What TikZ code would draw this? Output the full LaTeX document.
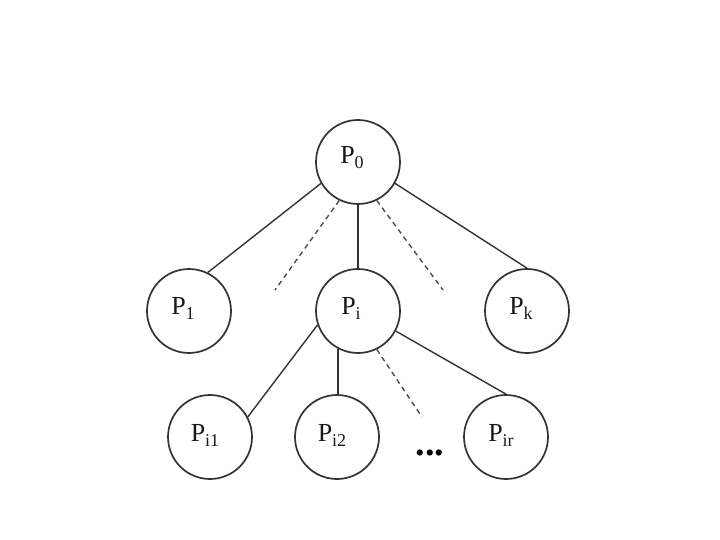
\documentclass[tikz,border=0pt]{standalone}
\usepackage{fontspec}
\setmainfont{Liberation Serif}
\newcommand\psub[1]{\raisebox{-5pt}{\fontsize{18}{18}\selectfont #1}}
\begin{document}
\begin{tikzpicture}[x=1pt,y=-1pt,
  circ/.style={circle,draw=black!80,line width=1.7pt,minimum size=84pt,inner sep=0pt},
  lab/.style={anchor=base,inner sep=0pt,font=\fontsize{26}{26}\selectfont,text=black!90},
  edge/.style={draw=black!80,line width=1.4pt},
  dedge/.style={draw=black!70,line width=1.4pt,dash pattern=on 5pt off 4pt}]
\useasboundingbox (0,0) rectangle (720,540);
% circles
\node[circ] (p0) at (358,162) {};
\node[circ] (p1) at (189,311) {};
\node[circ] (pi) at (358,311) {};
\node[circ] (pk) at (527,311) {};
\node[circ] (pi1) at (210,437) {};
\node[circ] (pi2) at (337,437) {};
\node[circ] (pir) at (506,437) {};
% labels
\node[lab] (t0) at (352,164) {P\psub{0}};
\node[lab] (t1) at (183,314) {P\psub{1}};
\node[lab] (ti) at (351,314) {P\psub{i}};
\node[lab] (tk) at (521,314) {P\psub{k}};
\node[lab] (ti1) at (205,441) {P\psub{i1}};
\node[lab] (ti2) at (332,441) {P\psub{i2}};
\node[lab] (tir) at (501,441) {P\psub{ir}};
\node[anchor=base,inner sep=0pt,font=\fontsize{38}{38}\selectfont\bfseries] (dots) at (430,455) {...};
% free ends
\coordinate (d1) at (275,290);
\coordinate (d2) at (443,290);
\coordinate (d3) at (422,417);
% connectors
\draw[edge] (p0.210) -- (p1.64);
\draw[dedge] (p0.244) -- (d1);
\draw[edge,line width=1.7pt] (p0.south) -- (pi.north);
\draw[dedge] (p0.296) -- (d2);
\draw[edge] (p0.330) -- (pk.north);
\draw[edge] (pi.199) -- (pi1.28);
\draw[edge,line width=1.7pt] (pi.242) -- (pi.242 |- pi2.north);
\draw[dedge] (pi.296) -- (d3);
\draw[edge] (pi.332) -- (pir.north);
\end{tikzpicture}
\end{document}
